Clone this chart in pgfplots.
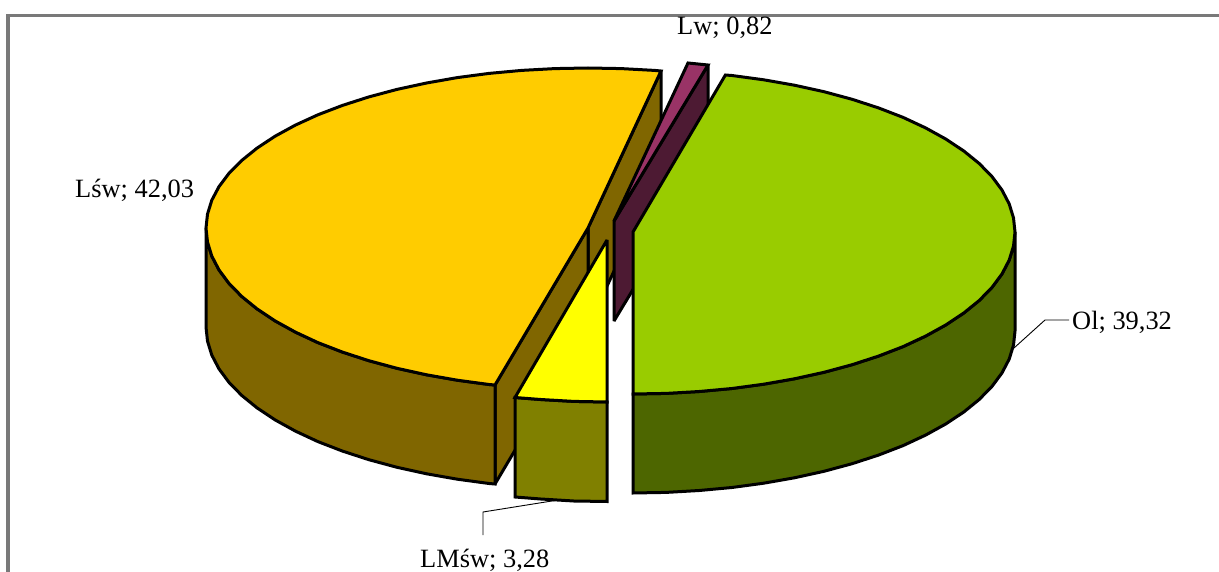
\documentclass[border=0pt]{standalone}
\usepackage{pgfplots}
\pgfplotsset{compat=1.18}
\usepackage{fontspec}
\setmainfont{Liberation Serif}
\tikzset{
  slice/.style={draw=black, line width=3pt, line join=miter, miter limit=3},
  lbl/.style={font=\fontsize{26.4}{30}\selectfont, inner sep=0pt, text=black},
}
\begin{document}
\begin{tikzpicture}
\definecolor{lswtop}{HTML}{FFCC00}\definecolor{lswside}{HTML}{806600}
\definecolor{oltop}{HTML}{99CC00}\definecolor{olside}{HTML}{4D6600}
\definecolor{lwtop}{HTML}{993366}\definecolor{lwside}{HTML}{4D1A33}
\definecolor{lmtop}{HTML}{FFFF00}\definecolor{lmside}{HTML}{808000}
\begin{axis}[
  scale only axis, width=1219pt, height=572pt,
  xmin=0, xmax=1219, ymin=0, ymax=572, y dir=reverse,
  enlargelimits=false, hide axis, clip=true,
]
% chart area border
\addplot[draw=gray!95!black, line width=3.6pt] coordinates {(8,572) (8,15.5) (1219,15.5)};

% Lsw: cut faces, then the outer wall and the top
\addplot[slice, fill=lswside] coordinates {(661,71) (588,228) (588,327) (661,170)} -- cycle;
\addplot[slice, fill=lswside] coordinates {(495,385) (588,228) (588,327) (495,484)} -- cycle;
\addplot[slice, fill=lswside] coordinates {
 (206,228) (207.5,242.1) (211.8,256.1) (219,269.9) (229,283.4) (241.8,296.5) (257.2,309) (275.1,320.9)
 (295.4,332.1) (317.9,342.6) (342.5,352.1) (368.9,360.7) (397,368.3) (426.6,374.8) (457.3,380.2) (489.1,384.5) (495,385)
 (495,484) (489.1,483.5) (457.3,479.2) (426.6,473.8) (397,467.3) (368.9,459.7) (342.5,451.1) (317.9,441.6)
 (295.4,431.1) (275.1,419.9) (257.2,408) (241.8,395.5) (229,382.4) (219,368.9) (211.8,355.1) (207.5,341.1) (206,327)
} -- cycle;
\addplot[slice, fill=lswtop] coordinates {
 (588,228) (495,385) (489.1,384.5) (457.3,380.2) (426.6,374.8) (397,368.3) (368.9,360.7) (342.5,352.1) (317.9,342.6)
 (295.4,332.1) (275.1,320.9) (257.2,309) (241.8,296.5) (229,283.4) (219,269.9) (211.8,256.1) (207.5,242.1) (206,228)
 (207.5,214.1) (211.8,200.2) (219,186.6) (229,173.3) (241.8,160.4) (257.2,148) (275.1,136.2) (295.4,125.1)
 (317.9,114.8) (342.5,105.4) (368.9,96.9) (397,89.4) (426.6,83) (457.3,77.6) (489.1,73.4) (521.7,70.4)
 (554.7,68.6) (588,68) (621.3,68.6) (654.3,70.4) (661,71)
} -- cycle;

% Lw
\addplot[slice, fill=lwside] coordinates {(708,65) (614,221) (614,321) (708,165)} -- cycle;
\addplot[slice, fill=lwtop] coordinates {(614,221) (688,63) (708,65)} -- cycle;

% LMsw
\addplot[slice, fill=lmside] coordinates {(515,397.5) (540.7,399.5) (573.7,401.4) (607,402) (607,501.5) (573.7,501) (540.7,499) (515,497)} -- cycle;
\addplot[slice, fill=lmtop] coordinates {(607,240) (515,397.5) (540.7,399.5) (573.7,401.4) (607,402)} -- cycle;

% Ol
\addplot[slice, fill=olside] coordinates {
 (1015,232) (1013.5,246.1) (1009.2,260.1) (1002,273.9) (992,287.4) (979.2,300.5) (963.8,313) (945.9,324.9) (925.6,336.1)
 (903.1,346.6) (878.5,356.1) (852.1,364.7) (824,372.3) (794.4,378.8) (763.7,384.2) (731.9,388.5) (699.3,391.5) (666.3,393.4) (633,394)
 (633,493) (666.3,492.4) (699.3,490.5) (731.9,487.5) (763.7,483.2) (794.4,477.8) (824,471.3) (852.1,463.7) (878.5,455.1)
 (903.1,445.6) (925.6,435.1) (945.9,423.9) (963.8,412) (979.2,399.5) (992,386.4) (1002,372.9) (1009.2,359.1) (1013.5,345.1) (1015,331)
} -- cycle;
\addplot[slice, fill=oltop] coordinates {
 (633,232) (725.4,75) (731.9,75.5) (763.7,79.8) (794.4,85.2) (824,91.7) (852.1,99.3) (878.5,107.9) (903.1,117.4)
 (925.6,127.9) (945.9,139.1) (963.8,151) (979.2,163.5) (992,176.6) (1002,190.1) (1009.2,203.9) (1013.5,217.9) (1015,232)
 (1013.5,246.1) (1009.2,260.1) (1002,273.9) (992,287.4) (979.2,300.5) (963.8,313) (945.9,324.9) (925.6,336.1)
 (903.1,346.6) (878.5,356.1) (852.1,364.7) (824,372.3) (794.4,378.8) (763.7,384.2) (731.9,388.5) (699.3,391.5) (666.3,393.4) (633,394)
} -- cycle;

% leader lines
\addplot[black, line width=0.9pt] coordinates {(1014,348) (1045,320) (1069,320)};
\addplot[black, line width=0.9pt] coordinates {(555,500.5) (483,512) (483,535)};

% data labels
\node[lbl, anchor=base west] at (axis cs:677,35) {Lw; 0,82};
\node[lbl, anchor=base west] at (axis cs:75,198) {Lśw; 42,03};
\node[lbl, anchor=base west] at (axis cs:1072,329) {Ol; 39,32};
\node[lbl, anchor=base west] at (axis cs:420,567) {LMśw; 3,28};
\end{axis}
% the page is exactly the axis rectangle
\pgfresetboundingbox
\useasboundingbox (current axis.south west) rectangle (current axis.north east);
\end{tikzpicture}
\end{document}
